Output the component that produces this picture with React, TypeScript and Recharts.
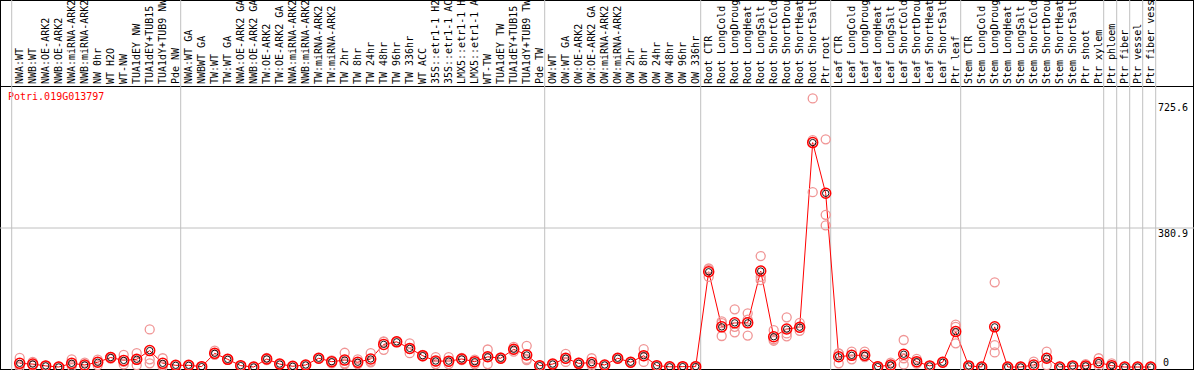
import { ComposedChart, Line, XAxis, YAxis, ReferenceLine } from 'recharts'

const labels = [
  'NWA:WT', 'NWB:WT', 'NWA:OE-ARK2', 'NWB:OE-ARK2', 'NWA:miRNA-ARK2', 'NWB:miRNA-ARK2', 'NW 0hr', 'WT H2O',
  'WT-NW', 'TUA1dEY NW', 'TUA1dEY+TUB15 NW', 'TUA1dY+TUB9 NW', 'Pde NW',
  'NWA:WT GA', 'NWBWT GA', 'TW:WT', 'TW:WT GA', 'NWA:OE-ARK2 GA', 'NWB:OE-ARK2 GA', 'TW:OE-ARK2',
  'TW:OE-ARK2 GA', 'NWA:miRNA-ARK2', 'NWB:miRNA-ARK2', 'TW:miRNA-ARK2', 'TW:miRNA-ARK2', 'TW 2hr',
  'TW 8hr', 'TW 24hr', 'TW 48hr', 'TW 96hr', 'TW 336hr', 'WT ACC', '35S::etr1-1 H2O', '35S::etr1-1 ACC',
  'LMX5::etr1-1 H2O', 'LMX5::etr1-1 ACC', 'WT-TW', 'TUA1dEY TW', 'TUA1dEY+TUB15 TW', 'TUA1dY+TUB9 TW', 'Pde TW',
  'OW:WT', 'OW:WT GA', 'OW:OE-ARK2', 'OW:OE-ARK2 GA', 'OW:miRNA-ARK2', 'OW:miRNA-ARK2', 'OW 2hr', 'OW 8hr',
  'OW 24hr', 'OW 48hr', 'OW 96hr', 'OW 336hr',
  'Root CTR', 'Root LongCold', 'Root LongDrought', 'Root LongHeat', 'Root LongSalt', 'Root ShortCold',
  'Root ShortDrought', 'Root ShortHeat', 'Root ShortSalt', 'Ptr root',
  'Leaf CTR', 'Leaf LongCold', 'Leaf LongDrought', 'Leaf LongHeat', 'Leaf LongSalt', 'Leaf ShortCold',
  'Leaf ShortDrought', 'Leaf ShortHeat', 'Leaf ShortSalt', 'Ptr leaf',
  'Stem CTR', 'Stem LongCold', 'Stem LongDrought', 'Stem LongHeat', 'Stem LongSalt', 'Stem ShortCold',
  'Stem ShortDrought', 'Stem ShortHeat', 'Stem ShortSalt', 'Ptr shoot',
  'Ptr xylem', 'Ptr phloem', 'Ptr fiber', 'Ptr vessel', 'Ptr fiber vessel',
]

const meanValues = [
  10, 8, 3, 0, 10, 5.5, 13, 26, 18, 21, 45, 10, 4.6,
  4.6, 1, 37.5, 21, 3.7, 0, 22, 8, 2, 5.5, 24, 14.6, 19, 13, 22, 62, 69, 51, 31, 16.4, 16, 22, 14.6, 28, 24, 48.5, 33, 3.7,
  8, 24, 10, 12, 5.5, 24, 13, 31, 3.7, 0.5, 1, 1,
  261, 110, 121, 121, 263, 83, 104, 109, 615, 476,
  28, 32, 32, 1, 5.5, 35, 14.6, 3, 13, 97,
  3, 0, 110, 0, 0, 5.5, 24, 0, 3, 3,
  12, 3.7, 0, 0, 0,
]

const rep1 = [
  25, 14, 2, 0, 21, 12, 20, 28, 33, 38, 103, 24, 4,
  4, 1, 45, 21, 4, 0, 25, 8, 2, 5, 24, 18, 39, 21, 38, 69, 69, 65, 29, 27, 27, 25, 20, 48, 24, 55, 58, 4,
  8, 36, 12, 24, 6, 24, 14, 49, 4, 1, 1, 3,
  270, 125, 158, 147, 304, 101, 136, 121, 736, 624,
  37, 42, 42, 1, 12, 74, 22, 3, 13, 116,
  3, 0, 232, 0, 0, 15, 42, 0, 3, 8,
  24, 10, 0, 0, 0,
]

const rep2 = [
  5, 6, 4, 0, 7, 3, 14, 26, 14, 20, 21, 5, 5,
  5, 1, 35, 20, 3, 0, 22, 8, 2, 6, 24, 16, 10, 10, 15, 70, 70, 50, 33, 15, 14, 22, 15, 28, 26, 48, 22, 3,
  8, 22, 10, 8, 5, 24, 13, 30, 4, 0, 1, 0,
  266, 120, 110, 130, 247, 76, 92, 107, 622, 417,
  37, 33, 30, 0, 3, 24, 13, 3, 12, 110,
  3, 0, 60, 0, 0, 1, 25, 0, 3, 1,
  10, 1, 0, 0, 0,
]

const rep3 = [
  0, 4, 3, 1, 2, 2, 5, 23, 7, 5, 10, 1, 5,
  5, 1, 33, 22, 4, 0, 19, 8, 2, 5, 24, 10, 8, 8, 13, 47, 68, 38, 31, 8, 8, 19, 8, 8, 22, 42, 19, 4,
  8, 14, 8, 4, 5, 24, 12, 14, 3, 0, 1, 0,
  247, 85, 95, 86, 238, 72, 84, 99, 479, 388,
  10, 21, 27, 2, 1, 7, 9, 3, 14, 65,
  3, 0, 40, 0, 0, 1, 5, 0, 3, 0,
  3, 0, 0, 0, 0,
]

// indices of the last sample in each group; a grey divider follows each
const groupEnds = [-1, 12, 40, 52, 62, 72, 83, 84, 85, 86, 87]
const yTicks = [0, 380.9, 725.6]

const data = labels.map((name, i) => ({
  i,
  name,
  mean: meanValues[i],
  r1: rep1[i],
  r2: rep2[i],
  r3: rep3[i],
}))

const MONO = '"DejaVu Sans Mono", monospace'
const W = 1194
const H = 370
const TOP = 20 // hidden strip above the page that holds the x axis

const CategoryTick = ({ x, payload }: any) => {
  const tx = x + 3.5
  const ty = TOP + 84
  return (
    <text x={tx} y={ty} transform={`rotate(-90 ${tx} ${ty})`} fontSize={10} fontFamily={MONO} fill="#000">
      {labels[payload.value]}
    </text>
  )
}

const ValueTick = ({ y, payload }: any) => {
  const zero = payload.value === 0
  return (
    <text x={zero ? 1163 : 1158} y={zero ? y - 1 : y + 9} fontSize={10} fontFamily={MONO} fill="#000">
      {String(payload.value)}
    </text>
  )
}

const RepDot = ({ cx, cy, index }: any) =>
  cx == null || cy == null ? null : (
    <circle key={index} cx={cx} cy={cy} r={4.5} stroke="#f09595" strokeWidth={1.3} fill="none" />
  )

const MeanDot = ({ cx, cy, index }: any) =>
  cx == null || cy == null ? null : (
    <g key={index}>
      <circle cx={cx} cy={cy} r={5} stroke="#ff0000" strokeWidth={1.5} fill="none" />
      <circle cx={cx} cy={cy} r={3.2} stroke="#000" strokeWidth={0.9} fill="none" />
    </g>
  )

export default function App() {
  return (
    <div style={{ position: 'absolute', left: 0, top: 0, width: W, height: H, background: '#fff', overflow: 'hidden' }}>
      <div style={{ position: 'absolute', inset: 0, border: '1px solid #000', boxSizing: 'border-box' }} />
      <div style={{ position: 'absolute', left: 0, top: 86, width: W, height: 1, background: '#000' }} />
      <div
        style={{
          position: 'absolute', left: 8, top: 92, fontFamily: MONO, fontSize: 10, lineHeight: '10px', color: '#ff0000',
        }}
      >
        Potri.019G013797
      </div>
      <div style={{ position: 'absolute', left: 0, top: -TOP }}>
        <ComposedChart width={W + 40} height={H + TOP} data={data} margin={{ top: 0, right: 0, bottom: 0, left: 0 }}>
          <XAxis
            dataKey="i"
            type="number"
            orientation="top"
            height={TOP}
            domain={[-19.7 / 13, (W - 19.7) / 13]}
            ticks={labels.map((_, i) => i)}
            interval={0}
            tick={<CategoryTick />}
            tickLine={false}
            axisLine={false}
            allowDataOverflow
          />
          <YAxis
            type="number"
            orientation="right"
            width={40}
            domain={[-3 / 0.3649, 367 / 0.3649]}
            ticks={yTicks}
            interval={0}
            tick={<ValueTick />}
            tickLine={false}
            axisLine={false}
            allowDataOverflow
          />
          <ReferenceLine y={380.9} stroke="#c0c0c0" strokeWidth={1} />
          {groupEnds.map((g) => (
            <ReferenceLine key={g} x={g + 5 / 13} stroke="#c0c0c0" strokeWidth={1} />
          ))}
          <Line dataKey="r1" stroke="none" dot={<RepDot />} activeDot={false} isAnimationActive={false} />
          <Line dataKey="r2" stroke="none" dot={<RepDot />} activeDot={false} isAnimationActive={false} />
          <Line dataKey="r3" stroke="none" dot={<RepDot />} activeDot={false} isAnimationActive={false} />
          <Line
            dataKey="mean"
            stroke="#ff0000"
            strokeWidth={1}
            dot={<MeanDot />}
            activeDot={false}
            isAnimationActive={false}
          />
        </ComposedChart>
      </div>
    </div>
  )
}
